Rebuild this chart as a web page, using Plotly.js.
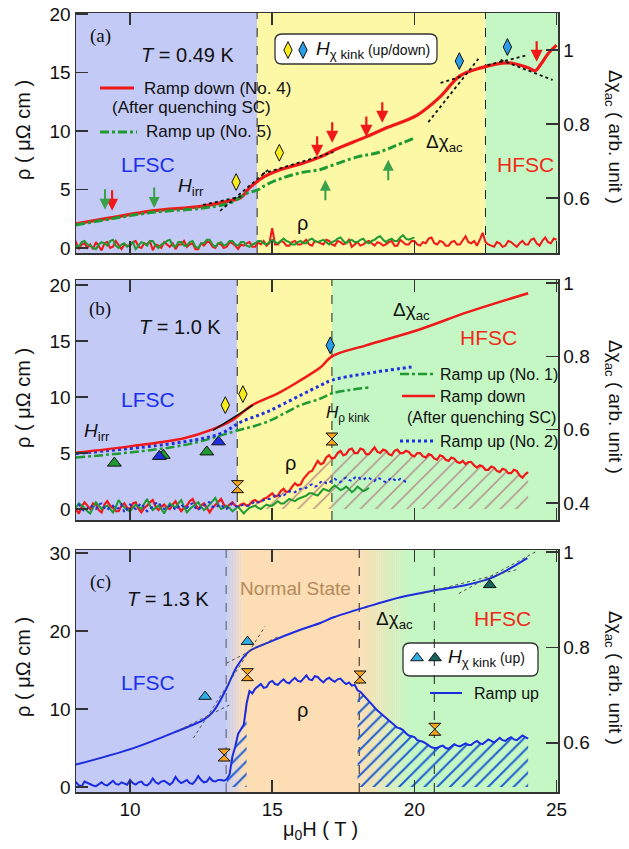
<!DOCTYPE html>
<html><head><meta charset="utf-8">
<script src="https://cdn.plot.ly/plotly-3.0.1.min.js"></script>
<style>html,body{margin:0;padding:0;background:#fff}</style>
</head><body><div id="chart" style="width:629px;height:849px"></div>
<script>
// ---------------- DATA ----------------
const X_RANGE = [8.1, 25.05];
// resistivity sweeps sampled every 0.1 T starting at 8.0 T
function sweep(start, n){ const a=[]; for(let i=0;i<n;i++) a.push(+(start+0.1*i).toFixed(2)); return a; }

// Panel (a)  T = 0.49 K
const fieldA_chiDown = [8.1, 9.3, 10.8, 12.5, 13.5, 13.9, 14.2, 14.5, 14.75, 15.3, 16.0, 16.7, 17.2, 18.3, 19.0, 20.1, 20.9, 21.6, 22.3, 23.3, 24.0, 24.25, 24.45, 24.7, 25.0];
const chiA_down      = [0.530, 0.546, 0.565, 0.577, 0.592, 0.601, 0.627, 0.646, 0.659, 0.677, 0.692, 0.711, 0.730, 0.765, 0.789, 0.824, 0.873, 0.930, 0.951, 0.965, 0.952, 0.944, 0.962, 0.990, 1.013];
const fieldA_chiUp   = [8.1, 9.3, 10.8, 12.5, 13.5, 14.1, 14.5, 14.8, 15.4, 16.0, 16.7, 17.0, 18.0, 18.7, 19.3, 20.0];
const chiA_up        = [0.527, 0.543, 0.561, 0.572, 0.586, 0.612, 0.622, 0.636, 0.655, 0.668, 0.677, 0.685, 0.711, 0.722, 0.740, 0.762];
const rhoA_down = [0.2,0.5,-0.1,0.3,0.4,0.0,0.3,-0.1,0.5,0.2,
 -0.2,0.4,0.5,0.0,0.1,0.6,0.3,-0.1,0.3,0.2,
 0.2,0.5,0.6,0.1,0.0,0.4,0.3,0.6,-0.2,0.3,
 0.2,0.0,0.5,0.3,0.1,0.4,-0.1,0.3,0.3,0.6,
 0.1,0.3,0.4,-0.1,-0.1,0.4,0.2,0.5,0.5,0.1,
 0.0,0.4,0.3,0.0,0.1,0.5,0.4,0.2,-0.1,0.3,
 0.2,0.4,0.5,0.1,0.1,0.5,0.3,0.6,0.2,0.4,
 1.7,0.3,0.3,0.6,0.5,0.2,0.2,0.5,0.6,0.3,
 0.3,0.5,0.7,0.3,0.2,0.6,0.5,0.4,0.3,0.7,
 0.6,0.3,0.2,0.6,0.5,0.3,0.4,0.7,0.1,0.3,
 0.5,0.2,0.3,0.5,0.6,0.4,0.2,0.5,0.4,0.2,
 0.3,0.5,0.6,0.2,0.2,0.7,0.5,0.3,0.3,0.6,
 0.6,0.3,0.2,0.5,0.4,0.8,0.9,0.4,0.3,0.6,
 0.5,0.2,0.2,0.5,0.6,0.3,0.3,0.7,1.0,0.5,
 0.4,0.6,0.2,0.7,1.3,0.5,0.3,0.2,0.1,0.5,
 0.4,0.1,0.2,0.6,0.5,0.3,0.1,0.4,0.6,0.3,
 0.3,0.7,0.8,0.4,0.2,0.6,0.9,0.5,0.4,0.8,
 0.7];
const rhoA_up = [0.4,0.2,0.1,0.5,0.6,0.3,0.2,0.0,-0.1,0.3,
 0.5,0.4,0.2,0.6,0.7,0.2,0.0,0.3,0.4,0.1,
 0.3,0.5,-0.1,0.2,0.5,0.4,0.2,0.6,0.6,0.2,
 0.0,0.3,0.4,0.6,0.7,0.2,0.1,0.5,0.5,0.2,
 0.2,0.5,0.6,0.1,0.0,0.4,0.4,0.7,0.7,0.3,
 0.1,0.4,0.5,0.2,0.3,0.6,0.6,0.3,0.2,0.5,
 0.5,0.2,0.1,0.3,0.4,0.6,0.6,0.4,0.3,0.5,
 0.7,0.5,0.4,0.6,0.8,0.6,0.5,0.3,0.3,0.5,
 0.6,0.4,0.4,0.7,0.8,0.6,0.5,0.6,0.7,0.5,
 0.3,0.5,0.6,0.8,0.9,0.6,0.4,0.6,0.7,0.5,
 0.5,0.7,0.8,0.5,0.4,0.6,0.7,0.9,1.0,0.7,
 0.5,0.7,0.8,0.6,0.6,0.9,1.1,0.8,0.7,0.8,
 0.9];
const fieldA_down = sweep(8.0, rhoA_down.length);
const fieldA_up   = sweep(8.0, rhoA_up.length);
const diamondA_yellow = {x:[13.73, 15.25], y:[0.643, 0.722]};
const diamondA_blue   = {x:[21.58, 23.27], y:[0.970, 1.008]};
const arrowsA_red     = {x:[9.37, 16.58, 17.11, 18.31, 18.87, 24.30], y:[0.565, 0.711, 0.749, 0.765, 0.803, 0.968]};
const arrowsA_greenDn = {x:[9.12, 10.85], y:[0.568, 0.573]};
const arrowsA_greenUp = {x:[16.87, 19.08], y:[0.649, 0.703]};
const tangentsA = [[12.57,0.581,13.98,0.605],[13.17,0.565,14.86,0.676],[14.65,0.665,17.15,0.724],
                   [20.49,0.805,22.25,0.976],[20.92,0.911,21.73,0.930],[22.57,0.959,23.98,0.986],[23.03,0.973,24.86,0.919]];
const regionsA = [[8.1,14.47,'blue'],[14.47,22.5,'yellow'],[22.5,25.05,'green']];
const dashA = [14.47, 22.5];

// Panel (b)  T = 1.0 K
const fieldB_chiDown = [8.1, 10.1, 11.9, 12.9, 13.6, 14.3, 15.2, 16.0, 16.7, 17.1, 18.3, 20.1, 21.9, 24.0];
const chiB_down      = [0.537, 0.556, 0.577, 0.601, 0.626, 0.667, 0.699, 0.735, 0.770, 0.800, 0.830, 0.871, 0.921, 0.972];
const fieldB_chiUp2  = [8.1, 11.9, 13.2, 13.9, 14.8, 16.0, 16.7, 17.1, 18.3, 19.9];
const chiB_up2       = [0.535, 0.567, 0.590, 0.621, 0.648, 0.694, 0.721, 0.735, 0.753, 0.771];
const fieldB_chiUp1  = [8.1, 11.9, 13.6, 14.8, 16.0, 16.7, 17.1, 18.4];
const chiB_up1       = [0.524, 0.558, 0.594, 0.621, 0.667, 0.685, 0.699, 0.715];
const rhoB_down = [0.3,0.0,-0.4,0.2,0.6,0.3,0.0,0.5,0.4,-0.1,
 -0.3,0.4,0.7,0.3,0.1,-0.2,-0.2,0.3,0.5,0.1,
 0.0,0.5,0.6,0.0,-0.3,0.1,0.3,0.6,0.8,0.2,
 -0.1,0.2,0.4,0.1,0.0,0.4,0.7,0.2,-0.2,0.1,
 0.3,0.7,0.9,0.4,0.0,0.3,0.5,0.1,-0.3,0.1,
 0.4,0.7,0.9,0.4,0.1,0.4,0.6,0.3,0.2,0.4,
 0.5,0.3,0.4,0.7,0.8,0.6,0.7,0.9,1.0,1.2,
 1.4,1.1,1.2,1.6,1.8,1.5,1.6,2.0,2.3,2.1,
 2.2,2.7,3.0,3.3,3.4,3.9,4.3,4.0,4.1,4.6,
 4.8,4.5,4.6,5.0,5.2,4.8,4.9,5.3,5.4,5.0,
 5.0,5.4,5.3,4.9,4.9,5.2,5.5,5.1,5.0,5.3,
 5.2,4.9,4.8,5.2,5.3,5.0,5.0,5.2,5.1,4.8,
 4.7,5.0,5.0,4.7,4.6,4.9,4.8,4.5,4.4,4.8,
 4.7,4.4,4.3,4.6,4.5,4.2,4.1,4.3,4.0,4.2,
 4.2,3.9,3.7,3.9,3.8,3.5,3.5,3.8,3.7,3.4,
 3.3,3.6,3.5,3.2,3.2,3.5,3.4,3.0,2.8,3.1,
 3.3];
const rhoB_up2 = [0.1,0.3,0.4,0.0,-0.2,0.1,0.3,0.2,0.0,0.4,
 0.5,0.1,-0.1,0.2,0.3,0.0,0.1,0.4,-0.3,0.0,
 0.4,0.2,0.0,0.3,0.5,0.1,-0.2,0.0,0.2,0.5,
 0.6,0.2,0.0,0.1,0.3,0.2,-0.1,0.2,0.4,0.1,
 0.1,0.4,0.5,0.1,-0.1,0.2,0.3,0.6,0.6,0.2,
 0.1,0.3,0.4,0.1,0.0,0.3,0.5,0.3,0.2,0.3,
 0.4,0.3,0.3,0.5,0.7,0.6,0.6,0.8,0.9,0.9,
 1.0,1.2,1.3,1.1,1.2,1.4,1.6,1.5,1.5,1.7,
 1.8,1.8,1.9,2.1,2.2,2.0,2.1,2.4,2.5,2.3,
 2.3,2.6,2.7,2.5,2.4,2.7,2.8,2.6,2.5,2.8,
 2.9,2.7,2.6,2.8,2.8,2.6,2.5,2.8,2.7,2.5,
 2.4,2.6,2.8,2.6,2.5,2.7,2.6,2.4,2.3];
const rhoB_up1 = [-0.2,0.2,0.5,0.3,0.1,-0.2,-0.4,0.1,0.6,0.3,
 0.0,0.2,0.3,0.0,-0.3,0.2,0.8,0.4,0.1,-0.1,
 -0.2,0.1,0.4,0.2,0.0,0.5,0.9,0.3,-0.1,0.1,
 0.3,0.0,-0.4,0.1,0.5,0.3,0.1,0.5,0.8,0.2,
 -0.3,0.0,0.2,0.4,0.6,0.2,-0.1,0.1,0.4,0.7,
 1.0,0.4,0.0,0.1,0.3,0.1,-0.2,0.0,0.2,-0.1,
 -0.4,-0.1,0.1,0.2,0.3,0.1,0.0,0.2,0.4,0.3,
 0.3,0.5,0.7,0.5,0.5,0.7,0.9,0.8,0.7,0.9,
 1.0,1.1,1.2,1.4,1.4,1.3,1.2,1.5,1.8,1.7,
 1.6,1.9,2.1,1.9,1.7,1.8,2.0,1.8,1.5,1.7,
 2.0,1.8,1.6,1.7,1.9];
const fieldB_down = sweep(8.0, rhoB_down.length);
const fieldB_up2  = sweep(8.0, rhoB_up2.length);
const fieldB_up1  = sweep(8.0, rhoB_up1.length);
const diamondB_yellow = {x:[13.35, 13.97], y:[0.667, 0.697]};
const diamondB_blue   = {x:[17.04], y:[0.830]};
const triB_green = {x:[9.45, 11.17, 12.70], y:[4.1, 4.8, 5.1]};
const triB_blue  = {x:[11.03, 13.11], y:[4.7, 6.0]};
const hourB      = {x:[13.78, 17.10], y:[2.0, 6.25]};
const tangentsB  = [[12.92,0.598,14.33,0.667]];
const regionsB = [[8.1,13.77,'blue'],[13.77,17.1,'yellow'],[17.1,25.05,'green']];
const dashB = [13.77, 17.1];

// Panel (c)  T = 1.3 K
const fieldC_chi = [8.07, 10.12, 11.76, 12.58, 12.93, 13.40, 13.76, 14.17, 14.81, 15.99, 16.69, 17.16, 18.33, 19.51, 20.68, 21.86, 22.68, 23.26, 23.97];
const chiC       = [0.554, 0.589, 0.627, 0.648, 0.666, 0.715, 0.760, 0.791, 0.809, 0.837, 0.851, 0.863, 0.885, 0.905, 0.919, 0.931, 0.945, 0.962, 0.987];
const rhoC = [0.4,0.6,0.2,0.1,0.7,0.5,0.3,0.2,0.1,0.4,
 0.6,0.3,0.2,0.5,0.8,0.4,0.3,0.6,0.5,0.3,
 0.9,0.5,0.3,0.6,0.7,0.3,0.2,0.5,1.1,0.6,
 0.4,0.7,0.8,0.5,0.3,0.6,1.3,0.8,0.5,0.7,
 0.9,0.5,0.4,0.8,1.4,0.9,0.6,0.7,1.2,0.8,
 0.7,0.9,0.9,0.8,1.0,1.6,3.9,5.2,6.8,7.4,
 8.0,10.7,12.3,12.0,12.6,12.9,13.2,12.7,12.8,13.4,
 13.6,13.2,13.1,13.5,13.8,13.4,13.3,13.7,14.0,13.6,
 13.5,13.9,14.3,13.8,13.7,14.2,14.1,13.7,13.4,13.8,
 14.0,13.7,13.5,13.8,13.9,13.5,13.2,13.4,13.0,13.1,
 12.4,12.2,11.8,11.3,10.9,10.6,10.2,9.8,9.5,9.2,
 8.8,8.6,8.3,7.9,7.6,7.5,7.3,6.9,6.6,6.5,
 6.4,6.0,5.9,5.8,5.6,5.3,5.1,5.0,5.0,5.2,
 5.3,5.0,4.9,5.2,5.5,5.3,5.2,5.4,5.6,5.4,
 5.4,5.7,5.9,5.6,5.5,5.8,6.1,5.9,5.7,6.0,
 6.3,6.0,5.9,6.2,6.4,6.1,6.0,6.3,6.6,6.4,
 6.2];
const fieldC = sweep(8.0, rhoC.length);
const triC_light = {x:[12.64, 14.13], y:[0.697, 0.812]};
const triC_dark  = {x:[22.65], y:[0.931]};
const hourC      = {x:[13.31, 14.13, 18.09, 20.72], y:[4.1, 14.4, 14.1, 7.4]};
const tangentsC  = [[11.70,0.626,13.52,0.680],[12.23,0.610,14.75,0.844],[13.40,0.767,15.22,0.823],
                    [20.21,0.912,23.67,0.964],[21.56,0.913,24.26,1.0]];
const regionsC = [[8.1,13.38,'blue'],[13.38,14.0,'blue>orange'],[14.0,18.06,'orange'],[18.06,19.85,'orange>green'],[19.85,25.05,'green']];
const dashC = [13.38, 18.06, 20.7];

// ---------------- STYLE ----------------
const FONT = 'Liberation Sans, Arial, Helvetica, sans-serif';
const SERIF = 'Liberation Serif, Times New Roman, serif';
const BG = {blue:[195,202,246], yellow:[253,248,166], green:[196,247,196], orange:[252,221,180]};
const RED='#f01818', GREEN='#1f9a33', BLUE='#1f30e0';
const L=76, T=13, W=482, H=779;
const dA=[(792-253)/H, 1], dB=[(792-520)/H,(792-280)/H], dC=[0,(792-550)/H];
const px = (x)=> (x-L)/W, py = (y)=> (T+H-y)/H;
const rgb = c=>`rgb(${c.map(Math.round).join(',')})`;

function sub(xs, ys, lo, hi){ const X=[],Y=[]; xs.forEach((x,i)=>{ if(x>=lo-1e-9 && x<=hi+1e-9){X.push(x);Y.push(ys[i]);} }); return {x:X,y:Y}; }

const traces = [];
function line(x,y,xa,ya,color,width,dash,shape){ traces.push({x,y,xaxis:xa,yaxis:ya,mode:'lines',line:{color,width,dash:dash||'solid',shape:shape||'linear'},hoverinfo:'skip',showlegend:false}); }
function marks(o,xa,ya,symbol,color,size){ traces.push({x:o.x,y:o.y,xaxis:xa,yaxis:ya,mode:'markers',marker:{symbol,color,size,line:{color:'#111',width:1}},hoverinfo:'skip',showlegend:false}); }
function hatch(o,xa,ya,color,size,sol){ traces.push({x:o.x,y:o.y,xaxis:xa,yaxis:ya,mode:'lines',line:{width:0,color:'rgba(0,0,0,0)'},fill:'tozeroy',fillcolor:'rgba(0,0,0,0)',fillpattern:{shape:'/',fgcolor:color,bgcolor:'rgba(0,0,0,0)',size,solidity:sol},hoverinfo:'skip',showlegend:false}); }

// (a)
line(fieldA_down, rhoA_down, 'x','y', RED, 2);
line(fieldA_up, rhoA_up, 'x','y', GREEN, 2);
line(fieldA_chiDown, chiA_down, 'x','y2', RED, 3.2, 'solid','spline');
line(fieldA_chiUp, chiA_up, 'x','y2', GREEN, 3, 'dashdot','spline');
tangentsA.forEach(t=>line([t[0],t[2]],[t[1],t[3]],'x','y2','#111',1.8,'dot'));
marks(diamondA_yellow,'x','y2','diamond-tall','#f8ec1c',12);
marks(diamondA_blue,'x','y2','diamond-tall','#2a9de8',12);
// (b)
hatch(sub(fieldB_down, rhoB_down, 14.4, 24.0),'x2','y3','#b48a84',11,0.13);
line(fieldB_down, rhoB_down, 'x2','y3', RED, 2.2);
line(fieldB_up1, rhoB_up1, 'x2','y3', GREEN, 2);
line(fieldB_up2, rhoB_up2, 'x2','y3', BLUE, 2, 'dot');
line(fieldB_chiUp1, chiB_up1, 'x2','y4', GREEN, 2.5, 'dashdot','spline');
line(fieldB_chiUp2, chiB_up2, 'x2','y4', BLUE, 3, 'dot','spline');
line(fieldB_chiDown, chiB_down, 'x2','y4', RED, 2.5, 'solid','spline');
tangentsB.forEach(t=>line([t[0],t[2]],[t[1],t[3]],'x2','y4','#111',1.5,'solid'));
marks(triB_green,'x2','y3','triangle-up',GREEN,12);
marks(triB_blue,'x2','y3','triangle-up',BLUE,12);
marks(hourB,'x2','y3','hourglass','#f4a51c',12);
marks(diamondB_yellow,'x2','y4','diamond-tall','#f8ec1c',12);
marks(diamondB_blue,'x2','y4','diamond-tall','#2a9de8',12);
// (c)
hatch(sub(fieldC, rhoC, 13.4, 14.1),'x3','y5','#1f5fd0',9,0.22);
hatch(sub(fieldC, rhoC, 18.0, 24.0),'x3','y5','#1f5fd0',9,0.22);
line(fieldC, rhoC, 'x3','y5', '#1a2be0', 2);
line(fieldC_chi, chiC, 'x3','y6', '#1a2be0', 2, 'solid','spline');
tangentsC.forEach(t=>line([t[0],t[2]],[t[1],t[3]],'x3','y6','#555',1,'dot'));
marks(triC_light,'x3','y6','triangle-up','#2eaee6',11);
marks(triC_dark,'x3','y6','triangle-up','#16625c',11);
marks(hourC,'x3','y5','hourglass','#f4a51c',12);
// legend-box glyphs (positions given in pixels)
const xOfPx = p=> X_RANGE[0] + (p-L)/W*(X_RANGE[1]-X_RANGE[0]);
marks({x:[xOfPx(288)],y:[(248-50)/11.7]},'x','y','diamond-tall','#f8ec1c',12);
marks({x:[xOfPx(303)],y:[(248-50)/11.7]},'x','y','diamond-tall','#2a9de8',12);
marks({x:[xOfPx(417)],y:[(787-658)/7.8]},'x3','y5','triangle-up','#2eaee6',11);
marks({x:[xOfPx(435)],y:[(787-658)/7.8]},'x3','y5','triangle-up','#16625c',11);

// ---------------- SHAPES ----------------
const shapes = [];
function regionShapes(regions, xref, yref){
  regions.forEach(r=>{
    const parts = r[2].split('>');
    if(parts.length===1){
      shapes.push({type:'rect',xref,yref,x0:r[0],x1:r[1],y0:0,y1:1,fillcolor:rgb(BG[parts[0]]),line:{width:0},layer:'below'});
    } else {
      const a=BG[parts[0]], b=BG[parts[1]], n=24;
      for(let i=0;i<n;i++){
        const f=(i+0.5)/n, c=a.map((v,k)=>v+(b[k]-v)*f);
        shapes.push({type:'rect',xref,yref,x0:r[0]+(r[1]-r[0])*i/n,x1:r[0]+(r[1]-r[0])*(i+1)/n+0.01,y0:0,y1:1,fillcolor:rgb(c),line:{width:0},layer:'below'});
      }
    }
  });
}
regionShapes(regionsA,'x','y domain');
regionShapes(regionsB,'x2','y3 domain');
regionShapes(regionsC,'x3','y5 domain');
function rbox(x0,y0,x1,y1,r){
  const Lx=px(x0),Rx=px(x1),Ty=py(y0),By=py(y1),rx=r/W,ry=r/H;
  shapes.push({type:'path',xref:'paper',yref:'paper',layer:'below',fillcolor:'#fff',line:{color:'#333',width:1.3},
    path:`M ${Lx+rx},${Ty} L ${Rx-rx},${Ty} Q ${Rx},${Ty} ${Rx},${Ty-ry} L ${Rx},${By+ry} Q ${Rx},${By} ${Rx-rx},${By} L ${Lx+rx},${By} Q ${Lx},${By} ${Lx},${By+ry} L ${Lx},${Ty-ry} Q ${Lx},${Ty} ${Lx+rx},${Ty} Z`});
}
rbox(275,34,437,64,7);
rbox(403,643,538,676,7);
dashA.forEach(x=>shapes.push({type:'line',xref:'x',yref:'y domain',x0:x,x1:x,y0:0,y1:1,line:{color:'#222',width:1,dash:'dash'},layer:'below'}));
dashB.forEach(x=>shapes.push({type:'line',xref:'x2',yref:'y3 domain',x0:x,x1:x,y0:0,y1:1,line:{color:'#222',width:1,dash:'dash'},layer:'below'}));
dashC.forEach((x,i)=>shapes.push({type:'line',xref:'x3',yref:'y5 domain',x0:x,x1:x,y0:0,y1:1,line:{color:i===0?'#556':'#222',width:1,dash:'dash'},layer:'below'}));
function lsample(x0,x1,y,color,width,dash){ shapes.push({type:'line',xref:'paper',yref:'paper',x0:px(x0),x1:px(x1),y0:py(y),y1:py(y),line:{color,width,dash:dash||'solid'}}); }
lsample(100,134,88,RED,3);
lsample(100,137,132,GREEN,3,'dashdot');
lsample(400,435,374,GREEN,2.5,'dashdot');
lsample(402,435,396,RED,2.5);
lsample(400,433,441,BLUE,3,'dot');
lsample(430,462,693,'#1a2be0',2);

// ---------------- TEXT ----------------
const ann = [];
function txt(text,x,y,size,color,o){ o=o||{}; ann.push({text,xref:'paper',yref:'paper',x:px(x),y:py(y),xanchor:o.anchor||'center',yanchor:'middle',showarrow:false,textangle:o.angle||0,font:{family:o.family||FONT,size,color:color||'#111'}}); }
function arrow(o,xa,ya,color,ay,w){ o.x.forEach((x,i)=>ann.push({text:'',x,y:o.y[i],xref:xa,yref:ya,ax:0,ay,showarrow:true,arrowhead:2,arrowsize:1.1,arrowwidth:w,arrowcolor:color,standoff:0})); }
arrow(arrowsA_red,'x','y2',RED,-22,2.2);
arrow(arrowsA_greenDn,'x','y2','#3aa04a',-22,2);
arrow(arrowsA_greenUp,'x','y2','#3aa04a',22,2);
const KINK = '<i>H</i><sub>χ kink</sub>';
// (a)
txt('(a)',100,36,19,'#111',{family:SERIF});
txt('<i>T</i> = 0.49 K',187,55,20);
txt('Ramp down (No. 4)',142,89,17,'#111',{anchor:'left'});
txt('(After quenching SC)',110,107,17,'#111',{anchor:'left'});
txt('Ramp up (No. 5)',144,132,17,'#111',{anchor:'left'});
txt('LFSC',148,164,21,'#1a2ff0');
txt('<i>H</i><sub>irr</sub>',191,187,19);
txt('ρ',302,223,20);
txt('Δχ<sub>ac</sub>',444,143,19);
txt('HFSC',525,164,21,'#f02a1a');
txt(KINK+'<span style="font-size:14px"> (up/down)</span>',314,50,19,'#111',{anchor:'left'});
// (b)
txt('(b)',100,309,19,'#111',{family:SERIF});
txt('<i>T</i> = 1.0 K',180,327,20);
txt('LFSC',148,399,21,'#1a2ff0');
txt('<i>H</i><sub>irr</sub>',97,432,19);
txt('ρ',290,463,20);
txt('Δχ<sub>ac</sub>',411,311,19);
txt('HFSC',488,337,21,'#f02a1a');
txt('<i>H</i><sub>ρ kink</sub>',348,414,17);
txt('Ramp up (No. 1)',438,374,16,'#111',{anchor:'left'});
txt('Ramp down',438,396,16,'#111',{anchor:'left'});
txt('(After quenching SC)',405,417,16,'#111',{anchor:'left'});
txt('Ramp up (No. 2)',438,441,16,'#111',{anchor:'left'});
// (c)
txt('(c)',100,582,19,'#111',{family:SERIF});
txt('<i>T</i> = 1.3 K',168,599,20);
txt('Normal State',295,588,19,'#b5895c');
txt('LFSC',148,682,21,'#1a2ff0');
txt('ρ',302,710,20);
txt('Δχ<sub>ac</sub>',394,620,19);
txt('HFSC',502,618,21,'#f02a1a');
txt(KINK+'<span style="font-size:14px"> (up)</span>',446,658,19,'#111',{anchor:'left'});
txt('Ramp up',472,693,16,'#111',{anchor:'left'});
// axis titles
[130,398,667].forEach(y=>txt('ρ ( μΩ cm )',23,y,20,'#111',{angle:-90}));
[137,407,678].forEach(y=>txt('Δχ<sub>ac</sub> ( arb. unit )',614,y,19,'#111',{angle:90}));
txt('μ<sub>0</sub>H ( T )',320,830,20);

// ---------------- LAYOUT ----------------
const ax = {showline:true,linecolor:'#333',linewidth:1.5,ticks:'inside',ticklen:12,tickwidth:1.5,tickcolor:'#333',showgrid:false,zeroline:false,tickfont:{family:FONT,size:19,color:'#111'}};
const xc = Object.assign({},ax,{range:X_RANGE,dtick:5,tick0:0,mirror:'ticks'});
const layout = {
  width:629,height:849,margin:{l:L,r:629-L-W,t:T,b:849-T-H},
  paper_bgcolor:'#fff',plot_bgcolor:'#fff',showlegend:false,
  xaxis: Object.assign({},xc,{anchor:'y',showticklabels:false}),
  xaxis2:Object.assign({},xc,{anchor:'y3',showticklabels:false}),
  xaxis3:Object.assign({},xc,{anchor:'y5',showticklabels:true}),
  yaxis: Object.assign({},ax,{domain:dA,anchor:'x',range:[-0.43,20.09],dtick:5,tick0:0}),
  yaxis2:Object.assign({},ax,{overlaying:'y',side:'right',anchor:'x',range:[0.451,1.1],dtick:0.2,tick0:0}),
  yaxis3:Object.assign({},ax,{domain:dB,anchor:'x2',range:[-0.98,20.45],dtick:5,tick0:0}),
  yaxis4:Object.assign({},ax,{overlaying:'y3',side:'right',anchor:'x2',range:[0.354,1.008],dtick:0.2,tick0:0}),
  yaxis5:Object.assign({},ax,{domain:dC,anchor:'x3',range:[-0.64,30.38],dtick:10,tick0:0}),
  yaxis6:Object.assign({},ax,{overlaying:'y5',side:'right',anchor:'x3',range:[0.497,1.004],dtick:0.2,tick0:0}),
  shapes, annotations:ann
};
Plotly.newPlot('chart', traces, layout, {displayModeBar:false, staticPlot:true});
</script></body></html>
